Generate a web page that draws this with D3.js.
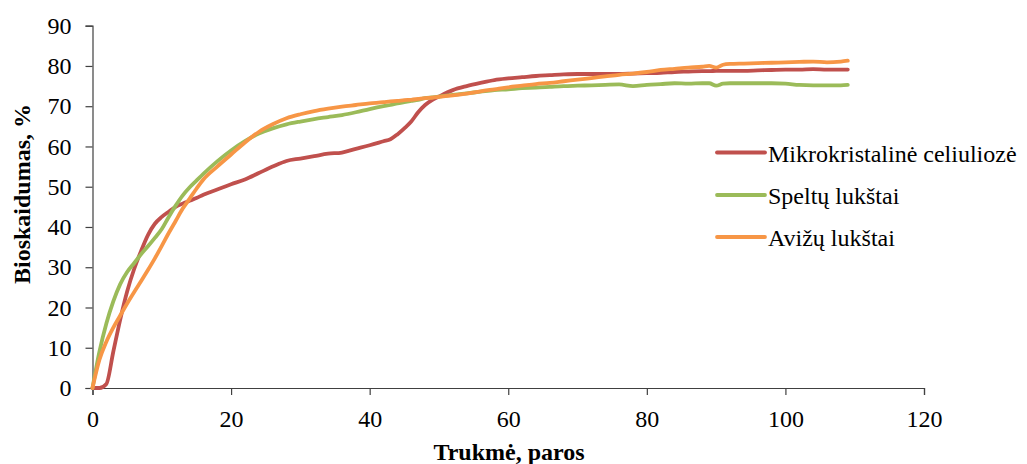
<!DOCTYPE html>
<html>
<head>
<meta charset="utf-8">
<script src="https://cdn.jsdelivr.net/npm/d3@7"></script>
<style>
  html, body { margin: 0; padding: 0; background: #fff; }
  svg { display: block; }
</style>
</head>
<body>
<svg id="chart" width="1027" height="464"></svg>
<script>
const days = [0,1,2,3,4,5,6,7,8,9,10,11,12,13,14,15,16,18,20,22,24,26,28,30,32,34,36,38,40,42,43,44,45,46,47,48,49,50,52,54,56,58,60,62,64,66,68,70,72,74,76,78,80,82,84,86,88,89,90,91,92,94,96,98,100,102,104,106,108,109];

const mikro = [0,0,1,9,17,24,29.5,34,38,40.8,42.5,43.8,45,45.8,46.5,47.2,48,49.3,50.6,51.8,53.4,55,56.4,57,57.6,58.2,58.5,59.4,60.3,61.3,61.8,63,64.5,66.2,68.5,70.3,71.5,72.4,74,75,75.8,76.5,76.9,77.2,77.5,77.7,77.9,78,78,78,78,78.1,78.2,78.3,78.5,78.6,78.7,78.7,78.8,78.8,78.8,78.8,78.9,79,79.1,79.1,79.2,79.1,79.1,79.1];

const speltu = [0,9,16,21.5,25.8,28.8,31,33.2,35.2,37.3,39.5,42.5,45.3,47.8,49.8,51.5,53.2,56.3,59,61.3,63.2,64.5,65.5,66.2,66.8,67.3,67.8,68.5,69.3,70,70.3,70.7,71,71.3,71.6,72,72.2,72.4,72.8,73.2,73.6,74,74.2,74.5,74.6,74.8,75,75.1,75.2,75.3,75.4,75,75.3,75.5,75.7,75.6,75.7,75.7,75.1,75.6,75.7,75.7,75.7,75.7,75.6,75.3,75.2,75.2,75.2,75.3];

const avizu = [0,7,11.5,15,18,21,23.8,26.5,29.3,32.2,35.3,38.5,41.5,44.5,47,49.5,51.8,55,58,61,63.6,65.5,67,68,68.8,69.4,69.9,70.3,70.7,71,71.2,71.3,71.5,71.6,71.8,72,72.1,72.3,72.7,73.1,73.7,74.2,74.7,75.1,75.5,75.8,76.2,76.6,77,77.4,77.8,78.1,78.5,79,79.3,79.6,79.8,80,79.6,80.3,80.5,80.6,80.7,80.8,80.9,81,81.1,80.9,81.1,81.3];

const seriesNames = ["Mikrokristalinė celiuliozė", "Speltų lukštai", "Avižų lukštai"];
const seriesColors = ["#C0504D", "#9BBB59", "#F79646"];
const seriesValues = [mikro, speltu, avizu];

const xTicks = [0,20,40,60,80,100,120];
const yTicks = [0,10,20,30,40,50,60,70,80,90];
const xTitle = "Trukmė, paros";
const yTitle = "Bioskaidumas, %";

const FONT = "'Liberation Serif', Tinos, 'Times New Roman', 'DejaVu Serif', serif";
const FS = "24px";

const svg = d3.select("#chart");
const x = d3.scaleLinear().domain([0,120]).range([92.5, 924]);
const y = d3.scaleLinear().domain([0,90]).range([388, 25.7]);

const axisColor = "#404040";

// Y axis
const gy = svg.append("g").attr("transform", `translate(${x(0)},0)`)
  .call(d3.axisLeft(y).tickValues(yTicks).tickSize(7).tickPadding(14).tickFormat(d3.format("d")));
gy.attr("font-family", null);
gy.select(".domain").attr("stroke", axisColor).attr("stroke-width", 1.2);
gy.selectAll(".tick line").attr("stroke", axisColor).attr("stroke-width", 1.2);
gy.selectAll(".tick text").style("font-size", FS).style("font-family", FONT).attr("fill", "#000");

// X axis
const gx = svg.append("g").attr("transform", `translate(0,${y(0)})`)
  .call(d3.axisBottom(x).tickValues(xTicks).tickSize(7).tickPadding(15).tickFormat(d3.format("d")));
gx.attr("font-family", null);
gx.select(".domain").attr("stroke", axisColor).attr("stroke-width", 1.2);
gx.selectAll(".tick line").attr("stroke", axisColor).attr("stroke-width", 1.2);
gx.selectAll(".tick text").style("font-size", FS).style("font-family", FONT).attr("fill", "#000");

// Lines
const line = d3.line().x((d,i) => x(days[i])).y(d => y(d)).curve(d3.curveMonotoneX);
seriesValues.forEach((vals, k) => {
  svg.append("path").datum(vals)
    .attr("fill", "none")
    .attr("stroke", seriesColors[k])
    .attr("stroke-width", 3.8)
    .attr("stroke-linejoin", "round")
    .attr("stroke-linecap", "round")
    .attr("d", line);
});

// Axis titles
svg.append("text")
  .attr("x", 509).attr("y", 460)
  .attr("text-anchor", "middle")
  .style("font-family", FONT).style("font-size", FS).style("font-weight", "bold")
  .text(xTitle);

svg.append("text")
  .attr("transform", `translate(30,194) rotate(-90)`)
  .attr("text-anchor", "middle")
  .style("font-family", FONT).style("font-size", FS).style("font-weight", "bold")
  .text(yTitle);

// Legend
const legendY = [152.5, 195, 237];
const lg = svg.append("g");
seriesNames.forEach((name, k) => {
  lg.append("line")
    .attr("x1", 717).attr("x2", 765)
    .attr("y1", legendY[k]).attr("y2", legendY[k])
    .attr("stroke", seriesColors[k]).attr("stroke-width", 3.8)
    .attr("stroke-linecap", "round");
  lg.append("text")
    .attr("x", 768).attr("y", legendY[k] + 9)
    .style("font-family", FONT).style("font-size", FS)
    .text(name);
});
</script>
</body>
</html>
